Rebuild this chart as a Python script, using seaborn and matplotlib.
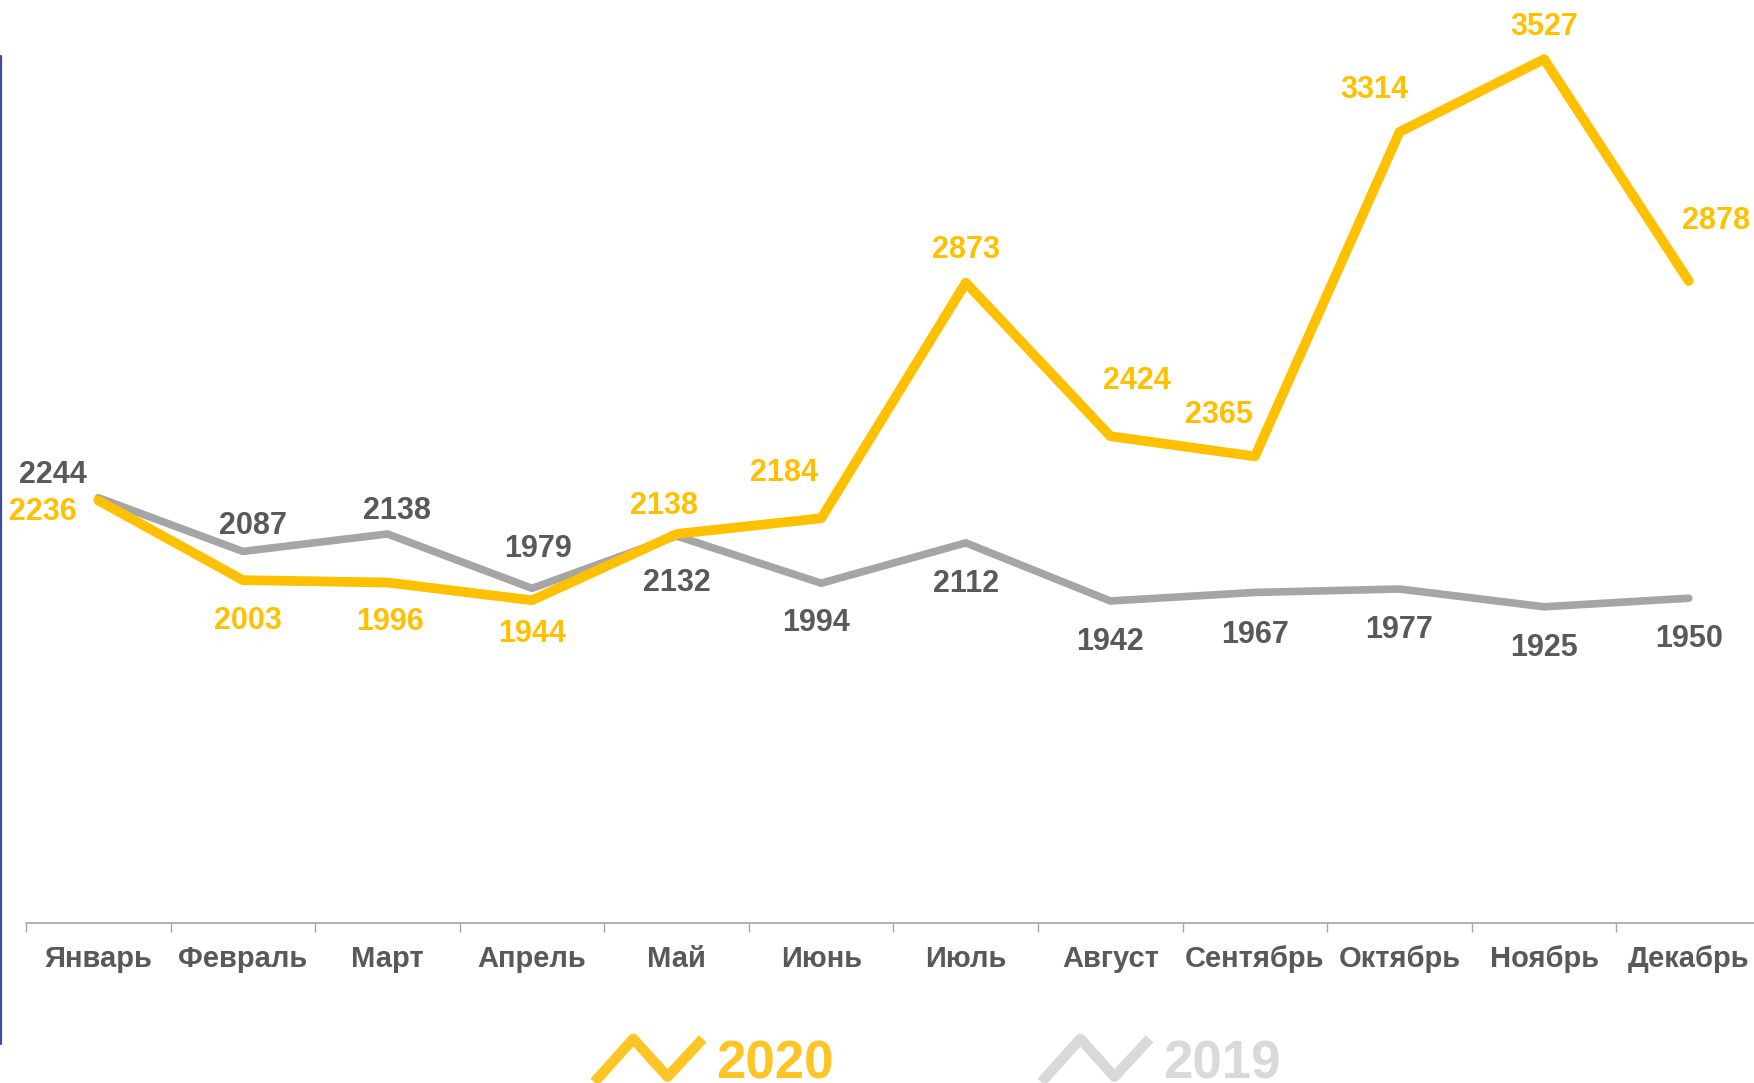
import numpy as np
import pandas as pd
import matplotlib
matplotlib.use("Agg")
import matplotlib.pyplot as plt
from matplotlib.lines import Line2D
from matplotlib.path import Path
import seaborn as sns

# data
months = ["Январь", "Февраль", "Март", "Апрель", "Май", "Июнь",
          "Июль", "Август", "Сентябрь", "Октябрь", "Ноябрь", "Декабрь"]
values_2020 = [2236, 2003, 1996, 1944, 2138, 2184, 2873, 2424, 2365, 3314, 3527, 2878]
values_2019 = [2244, 2087, 2138, 1979, 2132, 1994, 2112, 1942, 1967, 1977, 1925, 1950]
years = ["2020", "2019"]

# label offsets (points) for each data label
offs_2020 = [(-40, -6), (4, -27), (2, -26), (0, -22), (-9, 23), (-27, 35),
             (0, 26), (19, 42), (-26, 32), (-18, 33), (0, 26), (20, 46)]
offs_2019 = [(-33, 19), (7, 21), (7, 19), (4, 31), (0, -31), (-4, -26),
             (0, -27), (0, -27), (0, -28), (0, -27), (0, -27), (0, -27)]
DY = -2.5

YELLOW = "#FFC000"
GREY_LINE = "#A5A5A5"
TEXT_GREY = "#595959"

sns.set_style("white")
plt.rcParams["font.family"] = ["Liberation Sans", "DejaVu Sans"]
plt.rcParams["font.weight"] = "bold"

df = pd.DataFrame({
    "month": months * 2,
    "value": values_2020 + values_2019,
    "year": [years[0]] * 12 + [years[1]] * 12,
})

fig = plt.figure(figsize=(17.54, 10.83), dpi=100)
ax = fig.add_axes([26 / 1754, 1 - 923 / 1083, 1735 / 1754, 923 / 1083])

sns.lineplot(data=df[df["year"] == "2019"], x="month", y="value", sort=False,
             color=GREY_LINE, linewidth=5.5, ax=ax, legend=False,
             solid_capstyle="round", solid_joinstyle="round")
sns.lineplot(data=df[df["year"] == "2020"], x="month", y="value", sort=False,
             color=YELLOW, linewidth=7, ax=ax, legend=False,
             solid_capstyle="round", solid_joinstyle="round")

for i, v in enumerate(values_2019):
    ax.annotate(str(v), (i, v), xytext=(offs_2019[i][0], offs_2019[i][1] + DY),
                textcoords="offset points", ha="center", va="center",
                fontsize=22, fontweight="bold", color=TEXT_GREY)
for i, v in enumerate(values_2020):
    ax.annotate(str(v), (i, v), xytext=(offs_2020[i][0], offs_2020[i][1] + DY),
                textcoords="offset points", ha="center", va="center",
                fontsize=22, fontweight="bold", color=YELLOW)

ax.set_xlim(-0.5, 11.5)
ax.set_ylim(1000, 3700)
ax.set_xlabel("")
ax.set_ylabel("")
ax.set_yticks([])
ax.set_xticks(range(12))
ax.set_xticklabels(months, fontsize=21, fontweight="bold", color=TEXT_GREY)
ax.set_xticks(np.arange(-0.5, 12, 1), minor=True)
ax.tick_params(axis="x", which="major", length=0, pad=16)
ax.tick_params(axis="x", which="minor", bottom=True, length=6.5, width=1,
               color="#A6A6A6", direction="out")
for s in ["left", "top", "right"]:
    ax.spines[s].set_visible(False)
ax.spines["bottom"].set_color("#A6A6A6")
ax.spines["bottom"].set_linewidth(1.2)
ax.grid(False)

# left blue border line
fig.add_artist(Line2D([0.0008, 0.0008], [1 - 56 / 1083, 1 - 1044 / 1083],
                      transform=fig.transFigure, color="#3B4F9E", linewidth=1.6))

# legend with zigzag icons
zig = Path([(-1, -0.4), (-0.28, 0.4), (0.35, -0.3), (1, 0.4)],
           [Path.MOVETO, Path.LINETO, Path.LINETO, Path.LINETO])
handles = [
    Line2D([], [], linestyle="none", marker=zig, markersize=78, markerfacecolor="none",
           markeredgecolor="#FFC527", markeredgewidth=7.5),
    Line2D([], [], linestyle="none", marker=zig, markersize=78, markerfacecolor="none",
           markeredgecolor="#D9D9D9", markeredgewidth=7.5),
]
leg = fig.legend(handles, years, loc="center", bbox_to_anchor=(0.534, 0.017), ncol=2,
                 frameon=False, fontsize=38, handlelength=2.1, handletextpad=0.25,
                 columnspacing=3.9, borderaxespad=0)
for t, c in zip(leg.get_texts(), ["#FFC527", "#D9D9D9"]):
    t.set_color(c)
    t.set_fontweight("bold")

fig.savefig("out.png", dpi=100)
